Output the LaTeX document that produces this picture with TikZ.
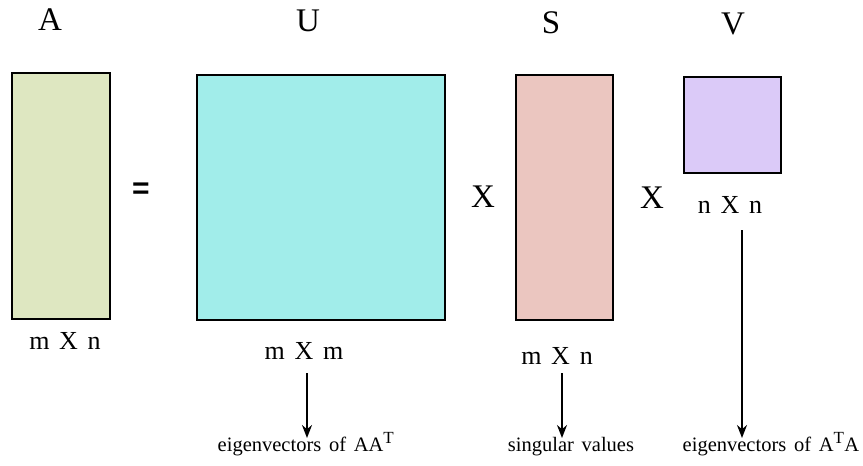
\documentclass[tikz,border=0pt]{standalone}
\usepackage{fontspec}
\usetikzlibrary{arrows.meta}
\setmainfont{Liberation Serif}
\newfontfamily\dimfont[WordSpace=2.2]{Liberation Serif}
\newfontfamily\descfont[WordSpace=1.5]{Liberation Serif}
\newfontfamily\eqfont{Liberation Sans}
\definecolor{fillA}{HTML}{DEE7C1}
\definecolor{fillU}{HTML}{A1EDEA}
\definecolor{fillS}{HTML}{EBC6C0}
\definecolor{fillV}{HTML}{DBCAF8}
\begin{document}
\begin{tikzpicture}[x=1pt,y=-1pt,>={Stealth[length=13pt,width=10pt]},
        mat/.style={draw,line width=2.4pt,inner sep=0pt},
        title/.style={font=\fontsize{33}{33}\selectfont},
        dims/.style={font=\dimfont\fontsize{26}{26}\selectfont},
        desc/.style={font=\descfont\fontsize{20.5}{20.5}\selectfont,anchor=base,inner sep=0pt},
        arrow/.style={->,line width=1.8pt}]
            \useasboundingbox (0,0) rectangle (863,466);
            \node[mat,fill=fillA,minimum width=98pt,minimum height=246pt] (A) at (61,196) {};
            \node[mat,fill=fillU,minimum width=248pt,minimum height=245pt] (U) at (321,197.5) {};
            \node[mat,fill=fillS,minimum width=97pt,minimum height=245pt] (S) at (564.5,197.5) {};
            \node[mat,fill=fillV,minimum width=97pt,minimum height=96pt] (V) at (732.5,125) {};
            \node[title] (Alab) at (50,20) {A};
            \node[title] (Ulab) at (308,21) {U};
            \node[title] (Slab) at (551,23) {S};
            \node[title] (Vlab) at (733,24) {V};
            \node[font=\eqfont\fontsize{30}{30}\selectfont\bfseries] (eq) at (141,191) {=};
            \node[title] (times1) at (483,197) {X};
            \node[title] (times2) at (652,198) {X};
            \node[dims] (Adim) at (65,341) {m X n};
            \node[dims] (Udim) at (304,351) {m X m};
            \node[dims] (Sdim) at (557,356) {m X n};
            \node[dims] (Vdim) at (730,205) {n X n};
            \node[desc] (Udesc) at (306,451) {eigenvectors of AA\textsuperscript{\fontsize{17}{17}\selectfont T}};
            \node[desc] (Sdesc) at (571,451) {singular values};
            \node[desc] (Vdesc) at (771,451) {eigenvectors of A\textsuperscript{\fontsize{17}{17}\selectfont T}A};
            \coordinate (Ufrom) at (307,373);
            \coordinate (Uto) at (307,438);
            \coordinate (Sfrom) at (562,373);
            \coordinate (Sto) at (562,438);
            \coordinate (Vfrom) at (742,230);
            \coordinate (Vto) at (742,438);
            \draw[arrow] (Ufrom) -- (Uto);
            \draw[arrow] (Sfrom) -- (Sto);
            \draw[arrow] (Vfrom) -- (Vto);
        \end{tikzpicture}
\end{document}
